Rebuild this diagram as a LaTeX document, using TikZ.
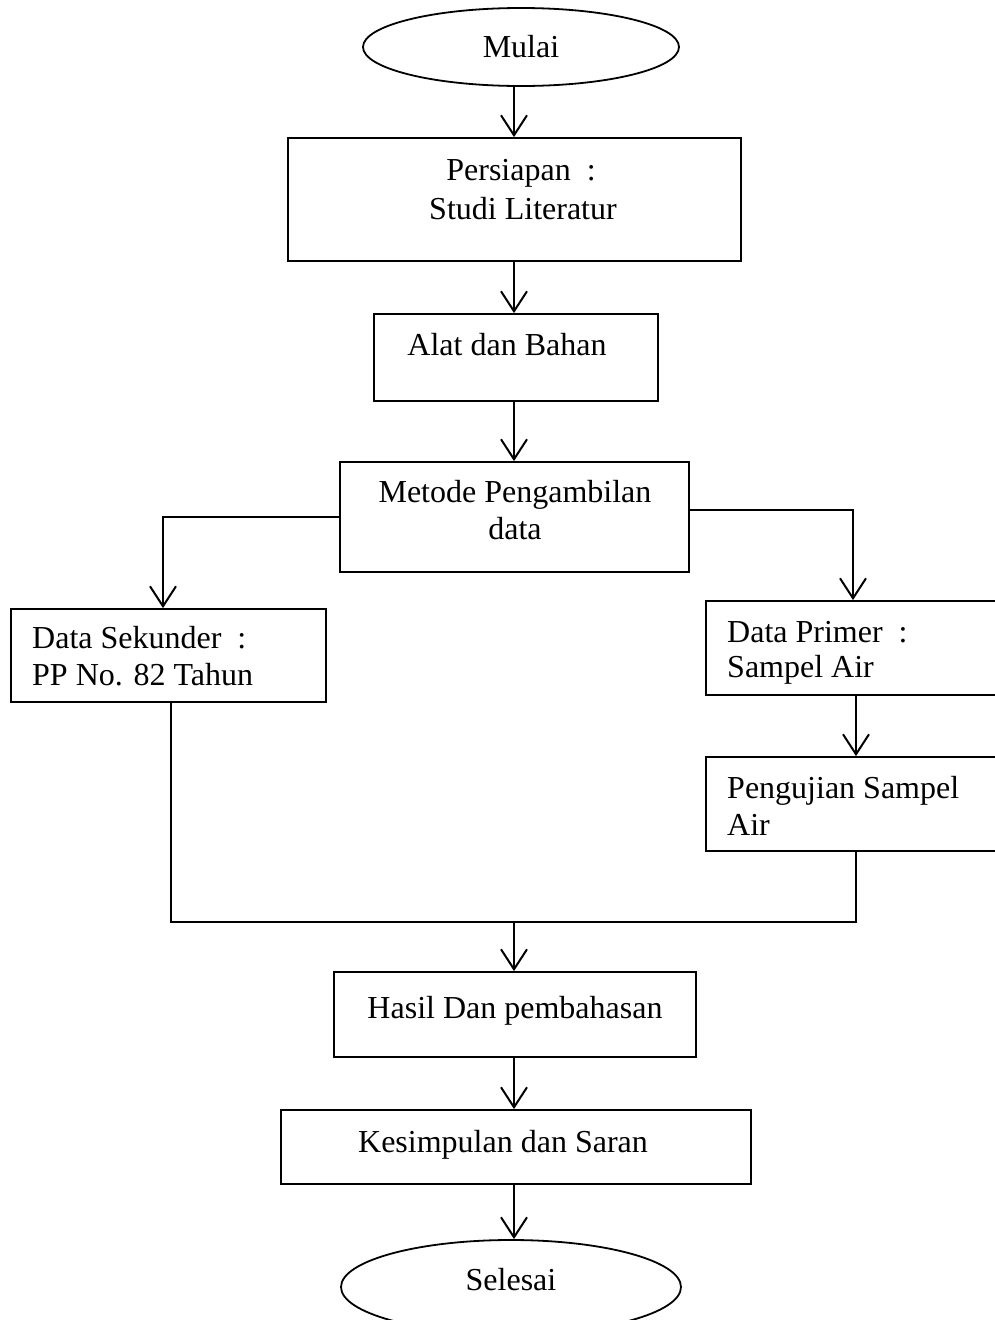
\documentclass[tikz,border=0pt]{standalone}
\usepackage{fontspec}
\setmainfont{Liberation Serif}
\usetikzlibrary{arrows.meta,shapes.geometric}
\begin{document}
\begin{tikzpicture}[x=1pt,y=-1pt,
  box/.style={draw,line width=1.8pt,rectangle,inner sep=0pt},
  oval/.style={draw,line width=1.8pt,ellipse,inner sep=0pt},
  txt/.style={font=\fontsize{32}{38}\selectfont,inner sep=0pt,anchor=base},
  ltxt/.style={font=\fontsize{32}{38}\selectfont,inner sep=0pt,anchor=base west},
  arr/.style={line width=2pt,-{Straight Barb[length=20pt,width=26pt,line width=2pt]}},
  ln/.style={line width=2pt}]
\useasboundingbox (0,0) rectangle (995,1320);
% shapes
\node[oval,minimum width=316pt,minimum height=78pt] (mulai) at (521,47) {};
\node[box,minimum width=453pt,minimum height=123pt] (pers) at (514.5,199.5) {};
\node[box,minimum width=284pt,minimum height=87pt] (alat) at (516,357.5) {};
\node[box,minimum width=349pt,minimum height=110pt] (metode) at (514.5,517) {};
\node[box,minimum width=315pt,minimum height=93pt] (sek) at (168.5,655.5) {};
\node[box,minimum width=394pt,minimum height=94pt] (prim) at (903,648) {};
\node[box,minimum width=394pt,minimum height=94pt] (uji) at (903,804) {};
\node[box,minimum width=362pt,minimum height=85pt] (hasil) at (515,1014.5) {};
\node[box,minimum width=470pt,minimum height=74pt] (kes) at (516,1147) {};
\node[oval,minimum width=340pt,minimum height=94pt] (selesai) at (511,1287) {};
% texts
\node[txt] (tmulai) at (521,57) {Mulai};
\node[txt] (tp1) at (521,180) {Persiapan\ \ :};
\node[txt] (tp2) at (523,219) {Studi Literatur};
\node[txt] (talat) at (507,355) {Alat dan Bahan};
\node[txt] (tm1) at (515,502) {Metode Pengambilan};
\node[txt] (tm2) at (515,539) {data};
\node[ltxt] (ts1) at (32,648) {Data Sekunder\ \ :};
\node[ltxt] (ts2) at (32,685) {PP No. 82 Tahun};
\node[ltxt] (tpr1) at (727,642) {Data Primer\ \ :};
\node[ltxt] (tpr2) at (727,677) {Sampel Air};
\node[ltxt] (tu1) at (727,798) {Pengujian Sampel};
\node[ltxt] (tu2) at (727,835) {Air};
\node[txt] (thasil) at (515,1018) {Hasil Dan pembahasan};
\node[txt] (tkes) at (503,1152) {Kesimpulan dan Saran};
\node[txt] (tsel) at (511,1290) {Selesai};
% helper coordinates
\coordinate (ax) at (514,0);
\coordinate (lx) at (163,517);
\coordinate (rx) at (853,510);
\coordinate (px) at (856,0);
\coordinate (jl) at (171,922);
\coordinate (jr) at (856,922);
\coordinate (jm) at (514,922);
% connectors
\draw[arr] (mulai.south -| ax) -- (pers.north -| ax);
\draw[arr] (pers.south -| ax) -- (alat.north -| ax);
\draw[arr] (alat.south -| ax) -- (metode.north -| ax);
\draw[arr] (metode.west |- lx) -- (lx) -- (sek.north -| lx);
\draw[arr] (metode.east |- rx) -- (rx) -- (prim.north -| rx);
\draw[arr] (prim.south -| px) -- (uji.north -| px);
\draw[ln] (sek.south -| jl) -- (jl) -- (jr) -- (uji.south -| jr);
\draw[arr] (jm) -- (hasil.north -| ax);
\draw[arr] (hasil.south -| ax) -- (kes.north -| ax);
\draw[arr] (kes.south -| ax) -- (selesai.north -| ax);
\end{tikzpicture}
\end{document}
